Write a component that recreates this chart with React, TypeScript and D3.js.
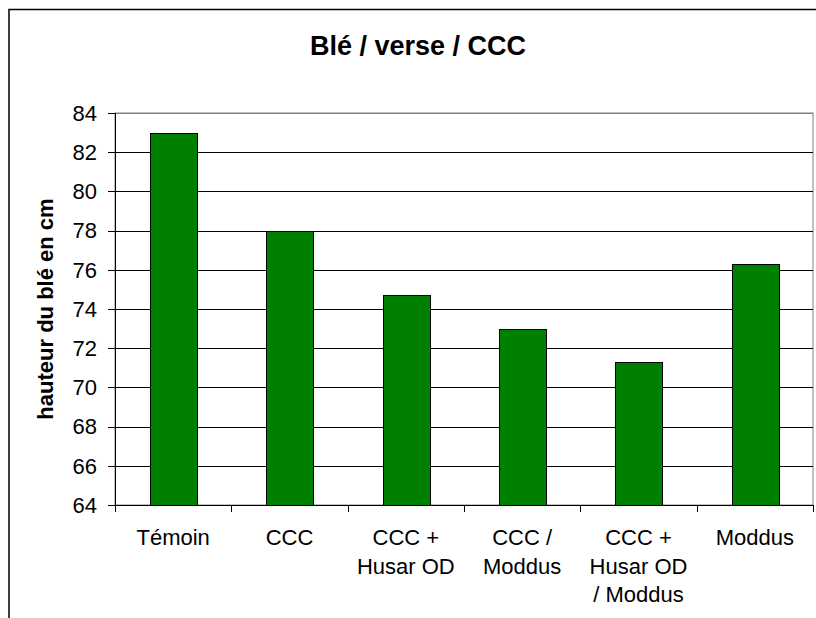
import React from "react";
import * as d3 from "d3";

const categories = ["Témoin", "CCC", "CCC + Husar OD", "CCC / Moddus", "CCC + Husar OD / Moddus", "Moddus"];
const categoryLines = [["Témoin"], ["CCC"], ["CCC +", "Husar OD"], ["CCC /", "Moddus"], ["CCC +", "Husar OD", "/ Moddus"], ["Moddus"]];
const values = [83, 78, 74.7, 73, 71.3, 76.3];
const yTicks = [64, 66, 68, 70, 72, 74, 76, 78, 80, 82, 84];
const title = "Blé / verse / CCC";
const yTitle = "hauteur du blé en cm";

const W = 816;
const H = 618;
const plot = { left: 115, right: 813, top: 113, bottom: 505 };
const FONT = "'Liberation Sans', Arial, sans-serif";

export default function App() {
  const x = d3.scaleBand<string>().domain(categories).range([plot.left, plot.right]).padding(0);
  const y = d3.scaleLinear().domain([64, 84]).range([plot.bottom, plot.top]);
  const step = x.step();
  const barW = step * 0.4;
  const boundaries = categories.map((c) => x(c) as number).concat([plot.right]);

  return (
    <svg width={W} height={H} style={{ position: "absolute", left: 0, top: 0, background: "#fff" }} fontFamily={FONT}>
      <rect x={0} y={0} width={W} height={H} fill="#fff" />
      {/* outer chart frame (extends beyond view) */}
      <rect x={9} y={9.5} width={900} height={700} fill="#fff" stroke="#000" strokeWidth={1.5} />

      {/* plot area border */}
      <rect x={plot.left} y={plot.top} width={plot.right - plot.left} height={plot.bottom - plot.top} fill="#fff" stroke="#808080" strokeWidth={1} />

      {/* gridlines */}
      {yTicks.map((t) => (
        <line key={"g" + t} x1={plot.left} x2={plot.right} y1={Math.round(y(t)) + 0.5} y2={Math.round(y(t)) + 0.5} stroke={t === 84 ? "#808080" : "#000"} strokeWidth={1} />
      ))}

      {/* bars */}
      {categories.map((c, i) => {
        const bx = (x(c) as number) + (step - barW) / 2;
        const by = y(values[i]);
        return (
          <rect key={c} x={Math.round(bx) + 0.5} y={Math.round(by) + 0.5} width={Math.round(barW)} height={Math.round(y(64)) - Math.round(by)} fill="#008000" stroke="#000" strokeWidth={1} />
        );
      })}

      {/* y axis */}
      <line x1={plot.left + 0.5} x2={plot.left + 0.5} y1={plot.top} y2={plot.bottom} stroke="#000" />
      {yTicks.map((t) => (
        <g key={"t" + t}>
          <line x1={plot.left - 7} x2={plot.left} y1={Math.round(y(t)) + 0.5} y2={Math.round(y(t)) + 0.5} stroke="#000" />
          <text x={97} y={y(t)} dy="0.35em" textAnchor="end" fontSize={22} fill="#000">
            {t}
          </text>
        </g>
      ))}

      {/* x axis */}
      <line x1={plot.left} x2={plot.right} y1={plot.bottom + 0.5} y2={plot.bottom + 0.5} stroke="#000" />
      {boundaries.map((bx, i) => (
        <line key={"xt" + i} x1={Math.round(bx) + 0.5} x2={Math.round(bx) + 0.5} y1={plot.bottom} y2={plot.bottom + 7} stroke="#000" />
      ))}
      {categories.map((c, i) => (
        <text key={"l" + c} x={(x(c) as number) + step / 2} y={545} textAnchor="middle" fontSize={22} fill="#000">
          {categoryLines[i].map((ln, j) => (
            <tspan key={j} x={(x(c) as number) + step / 2} dy={j === 0 ? 0 : 28.5}>
              {ln}
            </tspan>
          ))}
        </text>
      ))}

      {/* titles */}
      <text x={418} y={55} textAnchor="middle" fontSize={27} fontWeight="bold" fill="#000">
        {title}
      </text>
      <text transform={`translate(53, ${(plot.top + plot.bottom) / 2}) rotate(-90)`} textAnchor="middle" fontSize={22} fontWeight="bold" fill="#000">
        {yTitle}
      </text>
    </svg>
  );
}
